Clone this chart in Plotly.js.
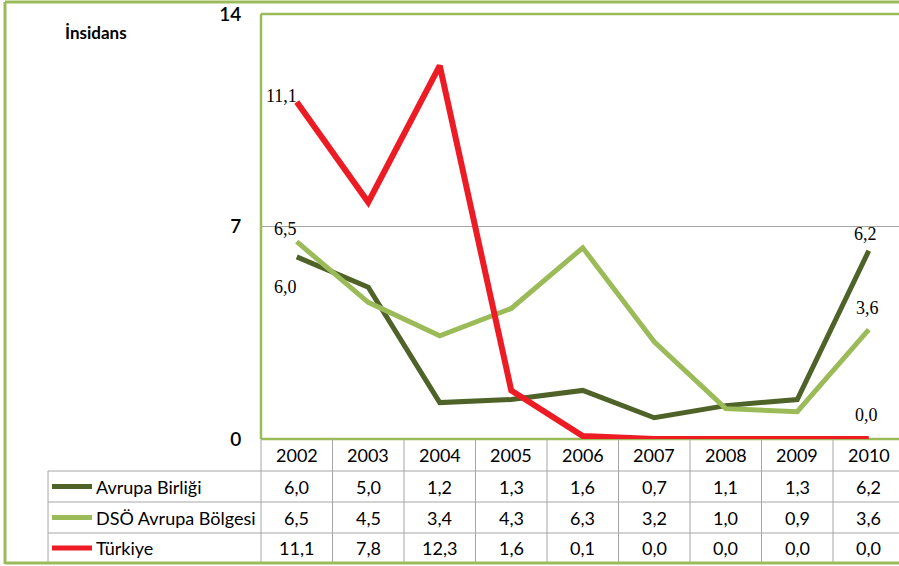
<!DOCTYPE html>
<html>
<head>
<meta charset="utf-8">
<script src="https://cdn.plot.ly/plotly-3.0.1.min.js"></script>
<style>
html,body{margin:0;padding:0;background:#fff;overflow:hidden;}
#chart{width:899px;height:566px;}
</style>
</head>
<body>
<div id="chart"></div>
<script>
// ---- data ----
const years = ['2002','2003','2004','2005','2006','2007','2008','2009','2010'];
const seriesNames = ['Avrupa Birliği','DSÖ Avrupa Bölgesi','Türkiye'];
const avrupaBirligi = [6.0, 5.0, 1.2, 1.3, 1.6, 0.7, 1.1, 1.3, 6.2];
const dsoAvrupa     = [6.5, 4.5, 3.4, 4.3, 6.3, 3.2, 1.0, 0.9, 3.6];
const turkiye       = [11.1, 7.8, 12.3, 1.6, 0.1, 0.0, 0.0, 0.0, 0.0];
const yTicks = [0, 7, 14];
const yTitle = 'İnsidans';

// ---- styling ----
const colors = ['#4f6228', '#9bbb59', '#ed1c24'];
const widths = [5, 5, 6];
const allSeries = [avrupaBirligi, dsoAvrupa, turkiye];
const green = '#9bbb59';
const gray = '#a6a6a6';

// pixel -> paper helpers (plot area: x 261..899, y 14..439)
const L = 261, R = 899, T = 14, B = 439;
const px = p => (p - L) / (R - L);
const py = p => (B - p) / (B - T);
const fmt = v => v.toFixed(1).replace('.', ',');

const traces = allSeries.map((vals, s) => ({
  type: 'scatter', mode: 'lines',
  x: years.map((_, i) => i), y: vals,
  line: {color: colors[s], width: widths[s]},
  cliponaxis: false, hoverinfo: 'skip', showlegend: false
}));

const shapes = [];
const line = (x0, y0, x1, y1, color, width, layer) =>
  shapes.push({type: 'line', xref: 'paper', yref: 'paper',
    x0: px(x0), y0: py(y0), x1: px(x1), y1: py(y1),
    line: {color: color, width: width}, layer: layer || 'above'});

// table grid
const rowLines = [471, 502, 533];
rowLines.forEach(y => line(48, y, 905, y, gray, 1));
line(48, 471, 48, 563, gray, 1);
for (let k = 0; k <= 9; k++) {
  const x = L + k * 71.5;
  line(x, 439, x, 563, gray, 1);
}
// plot area border
line(L, T, L, B, green, 2.5, 'between');
line(L, T, 905, T, green, 2.5, 'between');
line(L, B, 905, B, green, 2.5, 'between');
// outer border
line(5, 2, 5, 564, green, 3);
line(5, 2, 905, 2, green, 3);
line(5, 563, 905, 563, green, 3);
// legend keys in table
const rowCenters = [486.5, 517.5, 548];
rowCenters.forEach((y, s) => line(52, y, 92, y, colors[s], 5));

const annotations = [];
const tableFont = {family: 'Lato, sans-serif', size: 18, color: '#000'};
// header years
years.forEach((yr, i) => annotations.push({
  x: i, xref: 'x', y: py(455), yref: 'paper', text: yr, showarrow: false,
  xanchor: 'center', yanchor: 'middle', font: tableFont
}));
// values
allSeries.forEach((vals, s) => {
  annotations.push({
    x: px(94), xref: 'paper', y: py(rowCenters[s]), yref: 'paper',
    text: seriesNames[s], showarrow: false, xanchor: 'left', yanchor: 'middle',
    font: tableFont
  });
  vals.forEach((v, i) => annotations.push({
    x: i, xref: 'x', y: py(rowCenters[s]), yref: 'paper', text: fmt(v),
    showarrow: false, xanchor: 'center', yanchor: 'middle', font: tableFont
  }));
});
// data labels
const labFont = {family: 'Liberation Serif, serif', size: 18, color: '#000'};
const lab = (s, i, xanchor, xshift, yshift) => annotations.push({
  x: i, xref: 'x', y: allSeries[s][i], yref: 'y', text: fmt(allSeries[s][i]),
  showarrow: false, xanchor: xanchor, yanchor: 'middle',
  xshift: xshift, yshift: yshift, font: labFont
});
lab(2, 0, 'right', 2, 6);
lab(1, 0, 'right', 2, 13);
lab(0, 0, 'right', 2, -30);
lab(0, 8, 'center', -3, 17);
lab(1, 8, 'center', -1, 22);
lab(2, 8, 'center', -2, 24);
// y title
annotations.push({
  x: px(96), xref: 'paper', y: py(33), yref: 'paper', text: yTitle,
  showarrow: false, xanchor: 'center', yanchor: 'middle',
  font: {family: 'Lato, sans-serif', size: 17, color: '#000', weight: 'bold'}
});

const layout = {
  width: 899, height: 566,
  margin: {l: L, r: 0, t: T, b: 566 - B, pad: 0},
  paper_bgcolor: '#fff', plot_bgcolor: '#fff',
  showlegend: false,
  xaxis: {range: [-0.5, (R - L) / 71.5 - 0.5], showgrid: false, zeroline: false,
    showticklabels: false, ticks: '', showline: false, fixedrange: true},
  yaxis: {range: [0, 14], tickvals: yTicks, ticktext: yTicks.map(String),
    showgrid: true, gridcolor: gray, gridwidth: 1, zeroline: false,
    showline: false, ticks: 'outside', ticklen: 15, tickcolor: 'rgba(0,0,0,0)',
    tickfont: {family: 'Lato, sans-serif', size: 19, color: '#000', weight: 600},
    fixedrange: true},
  shapes: shapes,
  annotations: annotations
};

Plotly.newPlot('chart', traces, layout, {displayModeBar: false, staticPlot: true});
</script>
</body>
</html>
